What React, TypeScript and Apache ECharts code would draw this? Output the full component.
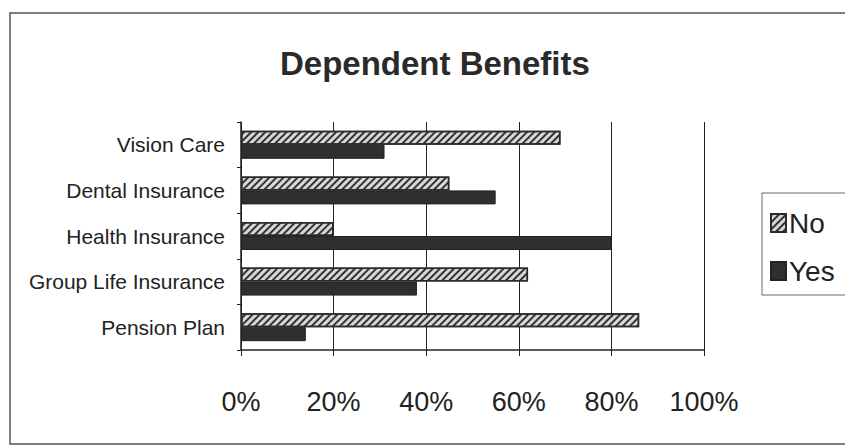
import React, { useEffect, useRef } from "react";
import * as echarts from "echarts";

const categories = ["Pension Plan", "Group Life Insurance", "Health Insurance", "Dental Insurance", "Vision Care"];
const noValues = [86, 62, 20, 45, 69];
const yesValues = [14, 38, 80, 55, 31];
const xTicks = [0, 20, 40, 60, 80, 100];
const titleText = "Dependent Benefits";

export default function App() {
  const ref = useRef<HTMLDivElement>(null);
  useEffect(() => {
    if (!ref.current) return;
    const chart = echarts.init(ref.current, null, { renderer: "svg" });
    const font = "'Liberation Sans', Arial, sans-serif";
    chart.setOption({
      animation: false,
      backgroundColor: "#fff",
      textStyle: { fontFamily: font },
      title: {
        text: titleText,
        left: 275,
        top: 42,
        textStyle: { fontSize: 33, fontWeight: "bold", color: "#2a2a2a", fontFamily: font },
      },
      graphic: [
        {
          type: "rect",
          shape: { x: 10, y: 13, width: 860, height: 431 },
          style: { fill: "none", stroke: "#555", lineWidth: 1.5 },
          silent: true,
        },
      ],
      legend: {
        orient: "vertical",
        left: 762,
        top: 193,
        data: ["No", "Yes"],
        icon: "rect",
        itemWidth: 15,
        itemHeight: 18,
        itemGap: 20,
        padding: [16, 40, 10, 8],
        borderColor: "#666",
        borderWidth: 1,
        textStyle: { fontSize: 28, color: "#222", fontFamily: font, padding: [0, 0, 0, -2] },
      },
      grid: { left: 241, right: 141, top: 122, bottom: 98 },
      xAxis: {
        type: "value",
        min: 0,
        max: 100,
        interval: 20,
        axisLine: { show: true, lineStyle: { color: "#222", width: 1.5 } },
        axisTick: { show: true, length: 6, lineStyle: { color: "#222" } },
        splitLine: { show: true, lineStyle: { color: "#222", width: 1 } },
        axisLabel: {
          margin: 38,
          fontSize: 27,
          color: "#222",
          fontFamily: font,
          formatter: (v: number) => (xTicks.includes(v) ? v + "%" : ""),
        },
      },
      yAxis: {
        type: "category",
        data: categories,
        axisLine: { show: true, lineStyle: { color: "#222", width: 1.5 } },
        axisTick: { show: true, length: 4, lineStyle: { color: "#222" } },
        axisLabel: { margin: 16, fontSize: 21, color: "#222", fontFamily: font },
      },
      series: [
        {
          name: "No",
          type: "bar",
          data: noValues,
          barWidth: 14,
          barGap: "0%",
          itemStyle: {
            color: "#d8d8d8",
            borderColor: "#2a2a2a",
            borderWidth: 1.5,
            decal: {
              symbol: "rect",
              symbolSize: 1,
              dashArrayX: [1, 0],
              dashArrayY: [2, 3],
              rotation: -Math.PI / 4,
              color: "#333",
            },
          },
        },
        {
          name: "Yes",
          type: "bar",
          data: yesValues,
          barWidth: 14,
          barGap: "0%",
          itemStyle: { color: "#2f2f2f", borderColor: "#222", borderWidth: 1 },
        },
      ],
    });
    return () => chart.dispose();
  }, []);
  return <div ref={ref} style={{ width: 845, height: 448, position: "absolute", left: 0, top: 0 }} />;
}
